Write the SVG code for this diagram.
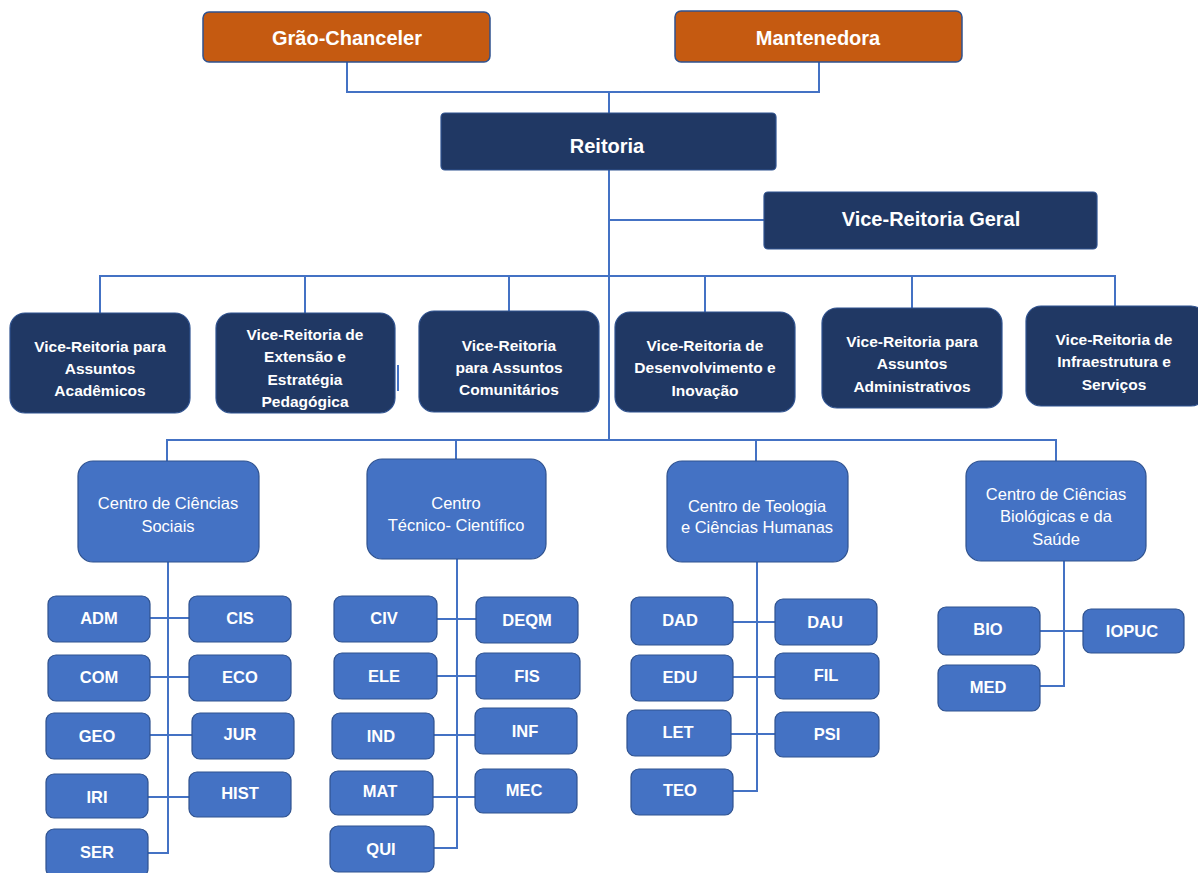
<svg xmlns="http://www.w3.org/2000/svg" width="1198" height="873" viewBox="0 0 1198 873">
<style>
.bg{fill:#ffffff}
.conn{stroke:#4472C4;stroke-width:2;fill:none}
.orange{fill:#C55A11;stroke:#2F528F;stroke-width:1.5}
.navy{fill:#203864;stroke:#2F528F;stroke-width:1.2}
.mid{fill:#4472C4;stroke:#2F528F;stroke-width:1.2}
text{font-family:"Liberation Sans",Arial,sans-serif;fill:#ffffff;text-anchor:middle;dominant-baseline:central}
.t1{font-size:20px;font-weight:bold}
.t2{font-size:15.5px;font-weight:bold}
.t3{font-size:16.5px}
.t4{font-size:16.5px;font-weight:bold}
</style>
<rect class="bg" x="0" y="0" width="1198" height="873"/>
<g id="connectors">
<polyline class="conn" points="347,62 347,92 819,92 819,62"/>
<line class="conn" x1="609" y1="92" x2="609" y2="440"/>
<line class="conn" x1="609" y1="220" x2="764" y2="220"/>
<polyline class="conn" points="100,313 100,276 1115,276 1115,306"/>
<line class="conn" x1="305" y1="276" x2="305" y2="313"/>
<line class="conn" x1="509" y1="276" x2="509" y2="311"/>
<line class="conn" x1="705" y1="276" x2="705" y2="312"/>
<line class="conn" x1="912" y1="276" x2="912" y2="308"/>
<line class="conn" x1="398" y1="365" x2="398" y2="391"/>
<polyline class="conn" points="167,461 167,440 1056,440 1056,461"/>
<line class="conn" x1="456" y1="440" x2="456" y2="459"/>
<line class="conn" x1="756" y1="440" x2="756" y2="461"/>
<polyline class="conn" points="168,562 168,853 148,853"/>
<line class="conn" x1="150" y1="618" x2="189" y2="618"/>
<line class="conn" x1="150" y1="677" x2="189" y2="677"/>
<line class="conn" x1="150" y1="735" x2="192" y2="735"/>
<line class="conn" x1="148" y1="797" x2="189" y2="797"/>
<polyline class="conn" points="457,559 457,848 434,848"/>
<line class="conn" x1="437" y1="619" x2="476" y2="619"/>
<line class="conn" x1="437" y1="676" x2="476" y2="676"/>
<line class="conn" x1="434" y1="735" x2="475" y2="735"/>
<line class="conn" x1="433" y1="797" x2="475" y2="797"/>
<polyline class="conn" points="757,562 757,791 733,791"/>
<line class="conn" x1="733" y1="622" x2="775" y2="622"/>
<line class="conn" x1="733" y1="677" x2="775" y2="677"/>
<line class="conn" x1="731" y1="734" x2="775" y2="734"/>
<polyline class="conn" points="1064,561 1064,686 1040,686"/>
<line class="conn" x1="1040" y1="631" x2="1083" y2="631"/>
</g>
<g id="grao-chanceler"><rect class="orange" x="203" y="12" width="287" height="50" rx="6"/><text class="t1" x="347" y="38">Grão-Chanceler</text></g>
<g id="mantenedora"><rect class="orange" x="675" y="11" width="287" height="51" rx="6"/><text class="t1" x="818" y="38">Mantenedora</text></g>
<g id="reitoria"><rect class="navy" x="441" y="113" width="335" height="57" rx="4"/><text class="t1" x="607" y="146">Reitoria</text></g>
<g id="vice-reitoria-geral"><rect class="navy" x="764" y="192" width="333" height="57" rx="4"/><text class="t1" x="931" y="219">Vice-Reitoria Geral</text></g>
<g id="vr-academicos"><rect class="navy" x="10" y="313" width="180" height="100" rx="15"/><text class="t2" x="100" y="346">Vice-Reitoria para</text><text class="t2" x="100" y="368">Assuntos</text><text class="t2" x="100" y="390">Acadêmicos</text></g>
<g id="vr-extensao"><rect class="navy" x="216" y="313" width="179" height="100" rx="15"/><text class="t2" x="305" y="334">Vice-Reitoria de</text><text class="t2" x="305" y="356">Extensão e</text><text class="t2" x="305" y="379">Estratégia</text><text class="t2" x="305" y="401">Pedagógica</text></g>
<g id="vr-comunitarios"><rect class="navy" x="419" y="311" width="180" height="101" rx="15"/><text class="t2" x="509" y="345">Vice-Reitoria</text><text class="t2" x="509" y="367">para Assuntos</text><text class="t2" x="509" y="389">Comunitários</text></g>
<g id="vr-desenvolvimento"><rect class="navy" x="615" y="312" width="180" height="100" rx="15"/><text class="t2" x="705" y="345">Vice-Reitoria de</text><text class="t2" x="705" y="367">Desenvolvimento e</text><text class="t2" x="705" y="390">Inovação</text></g>
<g id="vr-administrativos"><rect class="navy" x="822" y="308" width="180" height="100" rx="15"/><text class="t2" x="912" y="341">Vice-Reitoria para</text><text class="t2" x="912" y="363">Assuntos</text><text class="t2" x="912" y="386">Administrativos</text></g>
<g id="vr-infraestrutura"><rect class="navy" x="1026" y="306" width="180" height="100" rx="15"/><text class="t2" x="1114" y="339">Vice-Reitoria de</text><text class="t2" x="1114" y="361">Infraestrutura e</text><text class="t2" x="1114" y="384">Serviços</text></g>
<g id="ccs"><rect class="mid" x="78" y="461" width="181" height="101" rx="15"/><text class="t3" x="168" y="503">Centro de Ciências</text><text class="t3" x="168" y="526">Sociais</text></g>
<g id="ctc"><rect class="mid" x="367" y="459" width="179" height="100" rx="15"/><text class="t3" x="456" y="503">Centro</text><text class="t3" x="456" y="525">Técnico- Científico</text></g>
<g id="ctch"><rect class="mid" x="667" y="461" width="181" height="101" rx="15"/><text class="t3" x="757" y="506">Centro de Teologia</text><text class="t3" x="757" y="527">e Ciências Humanas</text></g>
<g id="ccbs"><rect class="mid" x="966" y="461" width="180" height="100" rx="15"/><text class="t3" x="1056" y="494">Centro de Ciências</text><text class="t3" x="1056" y="516">Biológicas e da</text><text class="t3" x="1056" y="539">Saúde</text></g>
<g id="adm"><rect class="mid" x="48" y="596" width="102" height="46" rx="8"/><text class="t4" x="99" y="618">ADM</text></g>
<g id="cis"><rect class="mid" x="189" y="596" width="102" height="46" rx="8"/><text class="t4" x="240" y="618">CIS</text></g>
<g id="com"><rect class="mid" x="48" y="655" width="102" height="46" rx="8"/><text class="t4" x="99" y="677">COM</text></g>
<g id="eco"><rect class="mid" x="189" y="655" width="102" height="46" rx="8"/><text class="t4" x="240" y="677">ECO</text></g>
<g id="geo"><rect class="mid" x="46" y="713" width="104" height="46" rx="8"/><text class="t4" x="97" y="736">GEO</text></g>
<g id="jur"><rect class="mid" x="192" y="713" width="102" height="46" rx="8"/><text class="t4" x="240" y="734">JUR</text></g>
<g id="iri"><rect class="mid" x="46" y="774" width="102" height="44" rx="8"/><text class="t4" x="97" y="797">IRI</text></g>
<g id="hist"><rect class="mid" x="189" y="772" width="102" height="45" rx="8"/><text class="t4" x="240" y="793">HIST</text></g>
<g id="ser"><rect class="mid" x="46" y="829" width="102" height="48" rx="8"/><text class="t4" x="97" y="852">SER</text></g>
<g id="civ"><rect class="mid" x="334" y="596" width="103" height="46" rx="8"/><text class="t4" x="384" y="618">CIV</text></g>
<g id="deqm"><rect class="mid" x="476" y="597" width="102" height="46" rx="8"/><text class="t4" x="527" y="620">DEQM</text></g>
<g id="ele"><rect class="mid" x="334" y="653" width="103" height="46" rx="8"/><text class="t4" x="384" y="676">ELE</text></g>
<g id="fis"><rect class="mid" x="476" y="653" width="104" height="46" rx="8"/><text class="t4" x="527" y="676">FIS</text></g>
<g id="ind"><rect class="mid" x="332" y="713" width="102" height="46" rx="8"/><text class="t4" x="381" y="736">IND</text></g>
<g id="inf"><rect class="mid" x="475" y="708" width="102" height="46" rx="8"/><text class="t4" x="525" y="731">INF</text></g>
<g id="mat"><rect class="mid" x="330" y="771" width="103" height="44" rx="8"/><text class="t4" x="380" y="791">MAT</text></g>
<g id="mec"><rect class="mid" x="475" y="769" width="102" height="44" rx="8"/><text class="t4" x="524" y="790">MEC</text></g>
<g id="qui"><rect class="mid" x="330" y="826" width="104" height="46" rx="8"/><text class="t4" x="381" y="849">QUI</text></g>
<g id="dad"><rect class="mid" x="631" y="597" width="102" height="48" rx="8"/><text class="t4" x="680" y="620">DAD</text></g>
<g id="dau"><rect class="mid" x="775" y="599" width="102" height="46" rx="8"/><text class="t4" x="825" y="622">DAU</text></g>
<g id="edu"><rect class="mid" x="631" y="655" width="102" height="46" rx="8"/><text class="t4" x="680" y="677">EDU</text></g>
<g id="fil"><rect class="mid" x="775" y="653" width="104" height="46" rx="8"/><text class="t4" x="826" y="675">FIL</text></g>
<g id="let"><rect class="mid" x="627" y="710" width="104" height="46" rx="8"/><text class="t4" x="678" y="732">LET</text></g>
<g id="psi"><rect class="mid" x="775" y="712" width="104" height="45" rx="8"/><text class="t4" x="827" y="734">PSI</text></g>
<g id="teo"><rect class="mid" x="631" y="769" width="102" height="46" rx="8"/><text class="t4" x="680" y="790">TEO</text></g>
<g id="bio"><rect class="mid" x="938" y="607" width="102" height="48" rx="8"/><text class="t4" x="988" y="629">BIO</text></g>
<g id="iopuc"><rect class="mid" x="1083" y="609" width="101" height="44" rx="8"/><text class="t4" x="1132" y="631">IOPUC</text></g>
<g id="med"><rect class="mid" x="938" y="665" width="102" height="46" rx="8"/><text class="t4" x="988" y="687">MED</text></g>
</svg>
